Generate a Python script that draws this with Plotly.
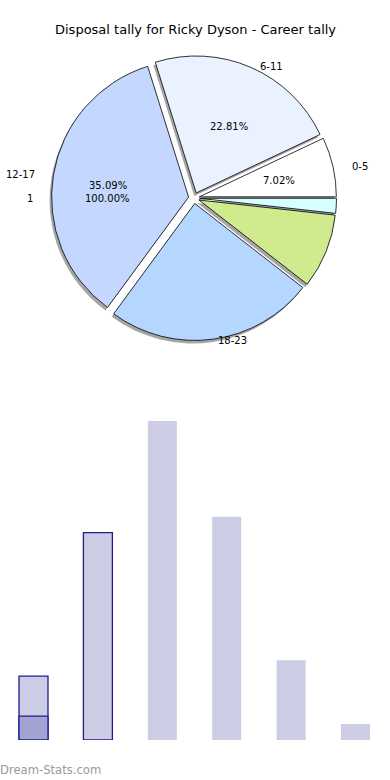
import math
import plotly.graph_objects as go

# ---- data ----
categories = ["0-5", "6-11", "12-17", "18-23", "24-29", "30-35"]
games = [4, 13, 20, 14, 5, 1]
pie_label_shown = [True, True, True, True, False, False]
pie_pct_shown = [True, True, True, False, False, False]
pie_colors = ["#ffffff", "#eaf1ff", "#c4d8ff", "#b4d6ff", "#cfeb8e", "#d6ffff"]
highlight_category = ["0-5"]
highlight_values = [1.5]
outlined = [True, True, False, False, False, False]
title_text = "Disposal tally for Ricky Dyson - Career tally"
second_pie_label = "1"
second_pie_pct = "100.00%"
watermark = "Dream-Stats.com"

W, H = 390, 780
FONT = "DejaVu Sans"

# pie geometry (pixels)
cx, cy = 194, 198
r = 137
pull = 0.04
rx_t, ry_t = 145, 131  # text placement radii

total = sum(games)
# plotly's counterclockwise pies end the first slice at the rotation angle;
# shift so the first slice starts at 3 o'clock like the reference
rotation = 90 - 360 * games[0] / total


def pie_domain(dx=0, dy=0):
    half = r * (1 + pull)
    return dict(
        x=[(cx + dx - half) / W, (cx + dx + half) / W],
        y=[1 - (cy + dy + half) / H, 1 - (cy + dy - half) / H],
    )


fig = go.Figure()

# shadow
fig.add_trace(go.Pie(
    values=games, labels=categories, sort=False, direction="counterclockwise",
    rotation=rotation, pull=[pull] * len(games), textinfo="none", hoverinfo="skip",
    marker=dict(colors=["rgba(0,0,0,0.35)"] * len(games), line=dict(width=0)),
    domain=pie_domain(-2, 3), showlegend=False,
))
# main pie
fig.add_trace(go.Pie(
    values=games, labels=categories, sort=False, direction="counterclockwise",
    rotation=rotation, pull=[pull] * len(games), textinfo="none",
    marker=dict(colors=pie_colors, line=dict(color="black", width=0.8)),
    domain=pie_domain(), showlegend=False,
))

# bars
fig.add_trace(go.Bar(
    x=categories, y=games, width=0.45,
    marker=dict(color="#ccccE5",
                line=dict(color=["#1c1c94" if o else "rgba(0,0,0,0)" for o in outlined],
                          width=[1.3 if o else 0 for o in outlined])),
    showlegend=False,
))
fig.add_trace(go.Bar(
    x=highlight_category, y=highlight_values, width=0.45,
    marker=dict(color="#a3a3d1", line=dict(color="#1c1c94", width=1.3)),
    showlegend=False,
))

annotations = []
cum = 0
for cat, v, show_l, show_p in zip(categories, games, pie_label_shown, pie_pct_shown):
    theta = 2 * math.pi * (cum + v / 2) / total
    cum += v
    c, s = math.cos(theta), math.sin(theta)
    if show_l:
        lx = cx + 1.1 * rx_t * c
        ly = cy - 1.1 * ry_t * s
        annotations.append(dict(
            x=lx / W, y=1 - ly / H, xref="paper", yref="paper", text=cat,
            showarrow=False, xanchor="left" if c > 0 else "right", yanchor="middle",
            font=dict(family=FONT, size=10, color="black"),
        ))
    if show_p:
        px = cx + 0.6 * rx_t * c
        py = cy - 0.6 * ry_t * s
        annotations.append(dict(
            x=px / W, y=1 - py / H, xref="paper", yref="paper",
            text=f"{100 * v / total:.2f}%", showarrow=False,
            xanchor="center", yanchor="middle",
            font=dict(family=FONT, size=10, color="black"),
        ))

# second (single-value) pie texts at 180 degrees
annotations.append(dict(
    x=(cx - 1.1 * rx_t) / W, y=1 - cy / H, xref="paper", yref="paper",
    text=second_pie_label, showarrow=False, xanchor="right", yanchor="middle",
    font=dict(family=FONT, size=10, color="black"),
))
annotations.append(dict(
    x=(cx - 0.6 * rx_t) / W, y=1 - cy / H, xref="paper", yref="paper",
    text=second_pie_pct, showarrow=False, xanchor="center", yanchor="middle",
    font=dict(family=FONT, size=10, color="black"),
))
# title
annotations.append(dict(
    x=195 / W, y=1 - 30 / H, xref="paper", yref="paper", text=title_text,
    showarrow=False, xanchor="center", yanchor="middle",
    font=dict(family=FONT, size=13, color="black"),
))
# watermark
annotations.append(dict(
    x=0, y=1 - 770 / H, xref="paper", yref="paper", text=watermark,
    showarrow=False, xanchor="left", yanchor="middle", xshift=-2,
    font=dict(family=FONT, size=11.6, color="#9a9a9a"),
))

fig.update_layout(
    width=W, height=H, margin=dict(l=0, r=0, t=0, b=0),
    paper_bgcolor="white", plot_bgcolor="white",
    barmode="overlay", showlegend=False,
    annotations=annotations,
    xaxis=dict(domain=[1.3 / W, 387.7 / W], visible=False, type="category",
               range=[-0.5, 5.5]),
    yaxis=dict(domain=[40 / H, 1 - 405 / H], visible=False, range=[0, 21]),
)

fig.write_html(
    "out.html",
    config={"displayModeBar": False},
    post_script="document.body.style.margin='0';document.body.style.padding='0';",
)
